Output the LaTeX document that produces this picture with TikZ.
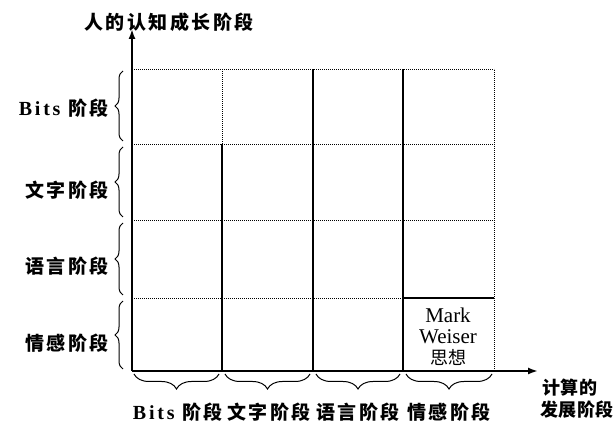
\documentclass[tikz,border=0pt]{standalone}
\usepackage{fontspec}
\setmainfont{Liberation Serif}
\newfontfamily\cjkwide[LetterSpace=13]{Noto Sans CJK SC}
\newfontfamily\cjknarrow[LetterSpace=2]{Noto Sans CJK SC}
\newfontfamily\cjkplain{Noto Sans CJK SC}
\newfontfamily\latinwide[LetterSpace=14]{Liberation Serif}
\newcommand{\bitsword}{{\latinwide\bfseries\fontsize{20}{21}\selectfont Bits\ }}
\usetikzlibrary{arrows.meta,decorations.pathreplacing}
\tikzset{
  axis/.style={line width=1.8pt,-{Latex[length=10pt,width=7pt]}},
  gridsolid/.style={line width=1.1pt},
  griddot/.style={line width=0.9pt,dash pattern=on 1.2pt off 0.8pt},
  lbrace/.style={line width=1pt,decorate,decoration={brace,amplitude=8pt}},
  bbrace/.style={line width=1pt,decorate,decoration={brace,amplitude=15pt}},
  stagelbl/.style={font=\cjkwide\bfseries\fontsize{19}{21}\selectfont,inner sep=0pt},
  axislbl/.style={font=\cjknarrow\bfseries\fontsize{18}{20}\selectfont,inner sep=0pt},
}
\begin{document}
\begin{tikzpicture}[x=1pt,y=1pt]
        \useasboundingbox (0,0) rectangle (616,423);
        %% Nodes
        \coordinate (O) at (132,52);
        \coordinate (Ytip) at (132,394);
        \coordinate (Xtip) at (538,52);
        %% Grid
        \draw[griddot] (132,354) -- (494,354);
        \draw[griddot] (132,279) -- (494,279);
        \draw[griddot] (132,203) -- (494,203);
        \draw[griddot] (132,125) -- (403,125);
        \draw[gridsolid] (403,125) -- (494,125);
        \draw[griddot] (494,52) -- (494,354);
        \draw[griddot] (222,279) -- (222,354);
        \draw[gridsolid] (222,52) -- (222,279);
        \draw[gridsolid] (313,52) -- (313,354);
        \draw[gridsolid] (403,52) -- (403,354);
        %% Axes
        \draw[axis] (O) -- (Ytip);
        \draw[axis] (O) -- (Xtip);
        \node[stagelbl] (ytitle) at (169,401) {人的认知成长阶段};
        \node[axislbl] (xtitleA) at (570,35) {计算的};
        \node[axislbl] (xtitleB) at (577,13) {发展阶段};
        %% Left braces
        \draw[lbrace] (123,282) -- (123,352);
        \draw[lbrace] (123,206) -- (123,276);
        \draw[lbrace] (123,128) -- (123,200);
        \draw[lbrace] (123,54) -- (123,122);
        \node[stagelbl,anchor=east] (rowA) at (109,315) {\bitsword 阶段};
        \node[stagelbl,anchor=east] (rowB) at (109,233) {文字阶段};
        \node[stagelbl,anchor=east] (rowC) at (109,157) {语言阶段};
        \node[stagelbl,anchor=east] (rowD) at (109,80) {情感阶段};
        %% Bottom braces
        \draw[bbrace] (219,49) -- (134,49);
        \draw[bbrace] (310,49) -- (225,49);
        \draw[bbrace] (400,49) -- (316,49);
        \draw[bbrace] (492,49) -- (406,49);
        \node[stagelbl] (colA) at (178,11) {\bitsword 阶段};
        \node[stagelbl] (colB) at (269,11) {文字阶段};
        \node[stagelbl] (colC) at (358,11) {语言阶段};
        \node[stagelbl] (colD) at (449,11) {情感阶段};
        %% Cell text
        \node[align=center,inner sep=0pt,font=\fontsize{21}{21}\selectfont] (weiser) at (448,86) {Mark\\Weiser\\{\cjkplain\fontsize{18}{21}\selectfont 思想}};
    \end{tikzpicture}
\end{document}
